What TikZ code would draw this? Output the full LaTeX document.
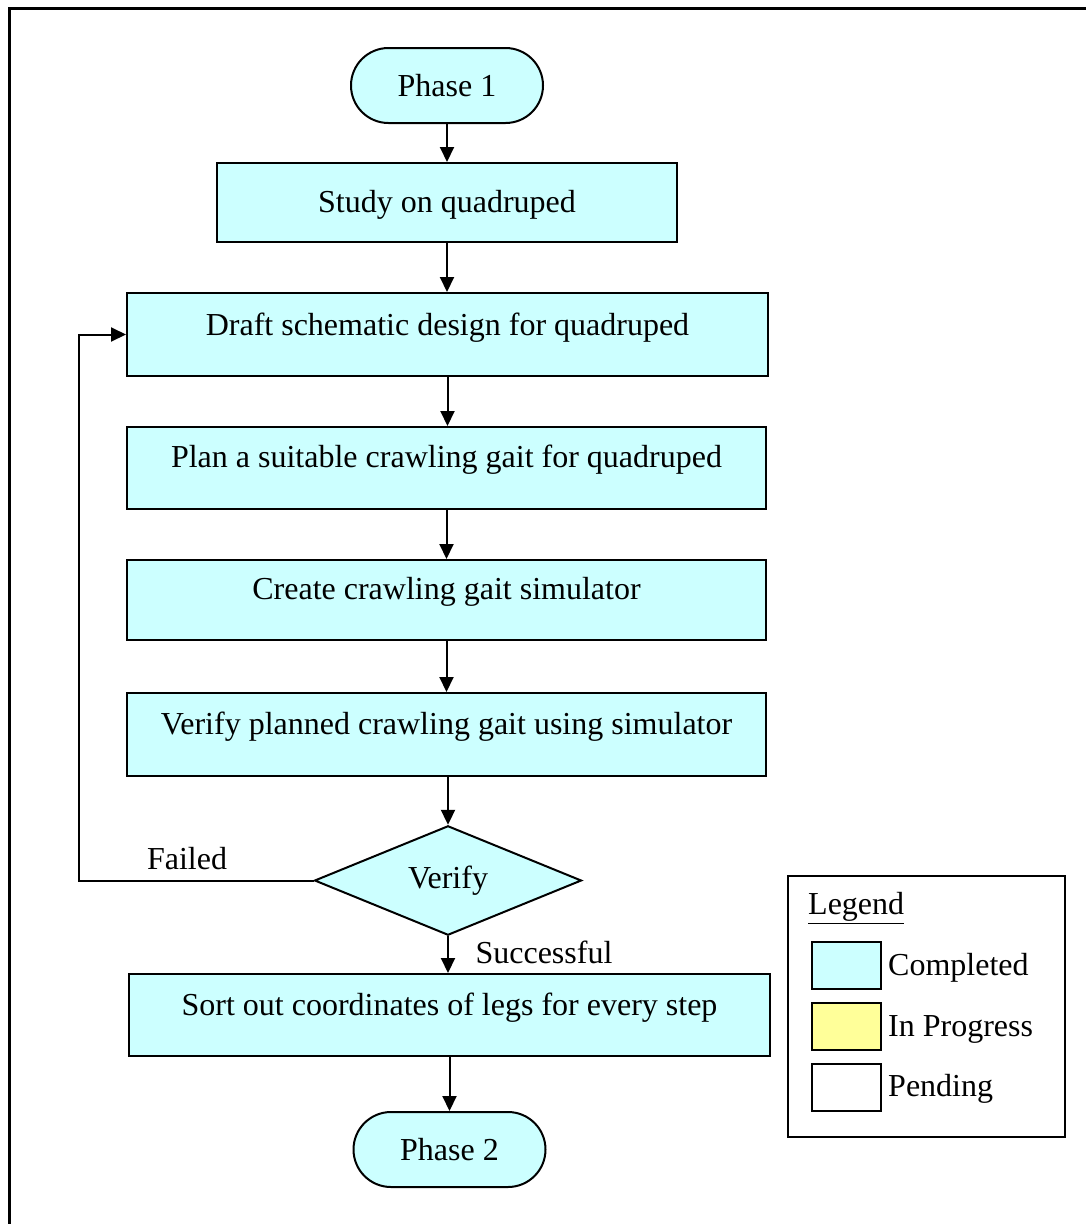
\documentclass[tikz,border=0pt]{standalone}
\usepackage{fontspec}
\setmainfont{Liberation Serif}
\usetikzlibrary{shapes.geometric,shapes.misc,arrows.meta}

\definecolor{donefill}{HTML}{CCFFFF}
\definecolor{progfill}{HTML}{FFFF99}

\tikzset{
  base/.style={draw=black, line width=2pt, inner sep=0pt},
  terminal/.style={base, rounded rectangle, fill=donefill, minimum width=192pt, minimum height=75pt},
  stepbox/.style={base, rectangle, fill=donefill},
  decision/.style={base, diamond, fill=donefill, minimum width=267pt, minimum height=103pt},
  txt/.style={inner sep=0pt},
  flow/.style={line width=2pt, -{Triangle[length=15pt,width=14pt]}},
  swatch/.style={base, rectangle, minimum width=69pt, minimum height=47pt},
}

\begin{document}
\begin{tikzpicture}[x=1pt, y=1pt, font=\fontsize{32}{38}\selectfont]
  \useasboundingbox (0,0) rectangle (1085,-1224);

  % outer frame (top and left edges)
  \draw[line width=3pt] (9,-1230) -- (9,-8) -- (1090,-8);

  % flow chart nodes
  \node[terminal] (p1) at (447,-85.5) {Phase 1};

  \node[stepbox, minimum width=460pt, minimum height=79pt] (study) at (447,-202.5) {};
  \node[txt] (studytxt) at (447,-205) {Study on quadruped};

  \node[stepbox, minimum width=641pt, minimum height=83pt] (draft) at (447.5,-334.5) {};
  \node[txt] (drafttxt) at (447.5,-328) {Draft schematic design for quadruped};

  \node[stepbox, minimum width=639pt, minimum height=82pt] (plan) at (446.5,-468) {};
  \node[txt] (plantxt) at (446.5,-460) {Plan a suitable crawling gait for quadruped};

  \node[stepbox, minimum width=639pt, minimum height=80pt] (create) at (446.5,-600) {};
  \node[txt] (createtxt) at (446.5,-592) {Create crawling gait simulator};

  \node[stepbox, minimum width=639pt, minimum height=83pt] (vbox) at (446.5,-734.5) {};
  \node[txt] (vboxtxt) at (446.5,-727) {Verify planned crawling gait using simulator};

  \node[decision] (dec) at (448,-880.5) {Verify};

  \node[stepbox, minimum width=641pt, minimum height=82pt] (sort) at (449.5,-1015) {};
  \node[txt] (sorttxt) at (449.5,-1008) {Sort out coordinates of legs for every step};

  \node[terminal] (p2) at (449.5,-1149.5) {Phase 2};

  % connectors
  \draw[flow] (p1.south) -- (p1.south |- study.north);
  \draw[flow] (study.south) -- (study.south |- draft.north);
  \draw[flow] (draft.south) -- (draft.south |- plan.north);
  \draw[flow] (plan.south) -- (plan.south |- create.north);
  \draw[flow] (create.south) -- (create.south |- vbox.north);
  \draw[flow] (vbox.south -| dec.north) -- (dec.north);
  \draw[flow] (dec.south) -- (dec.south |- sort.north);
  \draw[flow] (sort.south) -- (sort.south |- p2.north);

  % loop back on failure
  \coordinate (loop) at (79,-880.5);
  \draw[flow] (dec.west) -- (loop) |- (draft.west);

  \node[txt] (failed) at (187,-859) {Failed};
  \node[txt] (success) at (544,-952) {Successful};

  % legend
  \node[base, rectangle, minimum width=277pt, minimum height=261pt] (legend) at (926.5,-1006.5) {};
  \node[txt, anchor=west] (legtitle) at (808,-908) {\underline{Legend}};
  \node[swatch, fill=donefill] (swdone) at (846.5,-965.5) {};
  \node[swatch, fill=progfill] (swprog) at (846.5,-1026.5) {};
  \node[swatch, fill=white] (swpend) at (846.5,-1087) {};
  \node[txt, anchor=west] (lbdone) at (888,-968) {Completed};
  \node[txt, anchor=west] (lbprog) at (888,-1029) {In Progress};
  \node[txt, anchor=west] (lbpend) at (888,-1089) {Pending};
\end{tikzpicture}
\end{document}
